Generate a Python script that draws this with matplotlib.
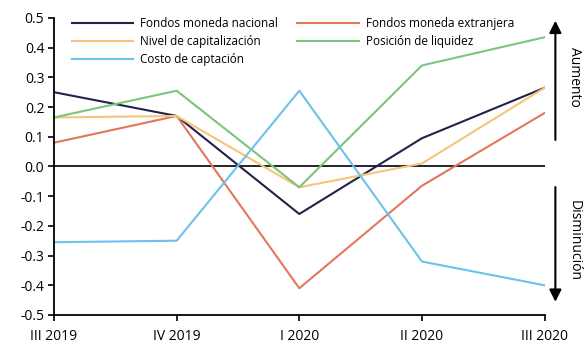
import matplotlib.pyplot as plt

periodos = ['III 2019', 'IV 2019', 'I 2020', 'II 2020', 'III 2020']
nacional = [0.25, 0.17, -0.16, 0.095, 0.265]
extranjera = [0.08, 0.17, -0.41, -0.065, 0.18]
capitalizacion = [0.165, 0.17, -0.07, 0.01, 0.265]
liquidez = [0.165, 0.255, -0.07, 0.34, 0.435]
costo = [-0.255, -0.25, 0.255, -0.32, -0.40]

plt.rcParams['font.family'] = ['Open Sans', 'DejaVu Sans']

fig = plt.figure(figsize=(5.84, 3.45), dpi=100)
ax = fig.add_axes([0.0925, 0.087, 0.84, 0.861])

x = range(len(periodos))
l1, = ax.plot(x, nacional, color='#22224a', lw=1.5, label='Fondos moneda nacional')
l2, = ax.plot(x, extranjera, color='#e2775a', lw=1.5, label='Fondos moneda extranjera')
l3, = ax.plot(x, capitalizacion, color='#f6c47c', lw=1.5, label='Nivel de capitalización')
l4, = ax.plot(x, liquidez, color='#7cc47c', lw=1.5, label='Posición de liquidez')
l5, = ax.plot(x, costo, color='#6cc2ea', lw=1.5, label='Costo de captación')
ax.axhline(0, color='black', lw=1.2, zorder=1)

ax.set_xlim(0, len(periodos) - 1)
ax.set_ylim(-0.5, 0.5)
ax.set_xticks(list(x))
ax.set_xticklabels(periodos, fontsize=10)
ax.set_yticks([0.5, 0.4, 0.3, 0.2, 0.1, 0.0, -0.1, -0.2, -0.3, -0.4, -0.5])
ax.set_yticklabels(['%.1f' % v for v in ax.get_yticks()], fontsize=10)
ax.tick_params(length=4, width=1.2, pad=3)
ax.tick_params(axis='x', pad=6)
for s in ['top', 'right']:
    ax.spines[s].set_visible(False)
for s in ['left', 'bottom']:
    ax.spines[s].set_linewidth(1.3)

ax.legend(handles=[l1, l3, l5, l2, l4], ncol=2, frameon=False, fontsize=8.5,
          handlelength=5.2, columnspacing=1.6, labelspacing=0.45,
          loc='upper left', bbox_to_anchor=(0.015, 1.04), handletextpad=0.6)

# flechas de aumento / disminucion
ax.annotate('', xy=(1.022, 1.0), xytext=(1.022, 0.58), xycoords='axes fraction',
            arrowprops=dict(arrowstyle='-|>', color='black', lw=1.5, mutation_scale=18),
            annotation_clip=False)
ax.annotate('', xy=(1.022, 0.035), xytext=(1.022, 0.44), xycoords='axes fraction',
            arrowprops=dict(arrowstyle='-|>', color='black', lw=1.5, mutation_scale=18),
            annotation_clip=False)
ax.text(1.06, 0.8, 'Aumento', rotation=-90, transform=ax.transAxes,
        ha='center', va='center', fontsize=10)
ax.text(1.06, 0.25, 'Disminución', rotation=-90, transform=ax.transAxes,
        ha='center', va='center', fontsize=10)

fig.savefig('out.png', dpi=100)
